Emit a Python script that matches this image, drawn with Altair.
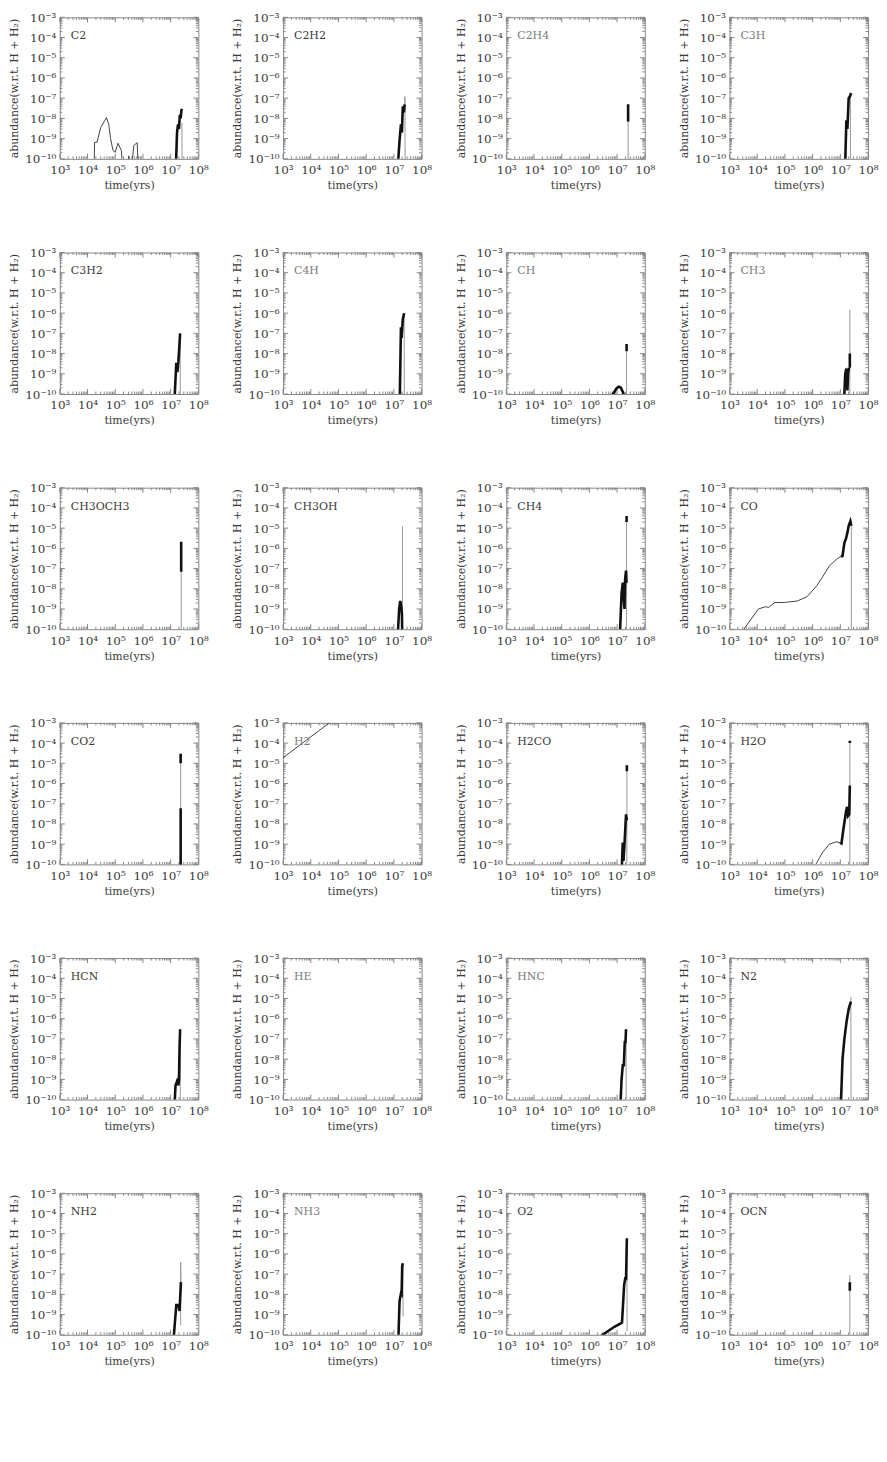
import altair as alt
import pandas as pd

FONT = "DejaVu Serif"
TEXT = "#3a3a3a"
TICK = "#888888"
W, H = 139, 142

SPECIES = ["C2", "C2H2", "C2H4", "C3H",
           "C3H2", "C4H", "CH", "CH3",
           "CH3OCH3", "CH3OH", "CH4", "CO",
           "CO2", "H2", "H2CO", "H2O",
           "HCN", "HE", "HNC", "N2",
           "NH2", "NH3", "O2", "OCN"]
LIGHT_LABELS = ["C2H4", "C3H", "C4H", "CH", "CH3", "H2", "HE", "HNC", "NH3"]

X_TICKS = [1e3, 1e4, 1e5, 1e6, 1e7, 1e8]
X_TICK_LABELS = ["10³", "10⁴", "10⁵", "10⁶", "10⁷", "10⁸"]
Y_TICKS = [1e-10, 1e-9, 1e-8, 1e-7, 1e-6, 1e-5, 1e-4, 1e-3]
Y_TICK_LABELS = ["10⁻¹⁰", "10⁻⁹", "10⁻⁸", "10⁻⁷", "10⁻⁶", "10⁻⁵", "10⁻⁴", "10⁻³"]
MINOR_MULT = [2, 3, 4, 5, 6, 7, 8, 9]

# ---- series (time in yrs, abundance) ----
C2_thin_t = [1.7e4, 1.8e4, 2.2e4, 3.0e4, 4.2e4, 4.8e4, 5.8e4, 6.8e4, 8.3e4, 1.0e5, 1.26e5, 1.66e5, 2.0e5, 2.9e5, 3.1e5, 3.5e5, 4.7e5, 6.2e5, 7.0e5]
C2_thin_a = [1e-11, 6.6e-10, 6.6e-10, 3.6e-9, 7.8e-9, 1.1e-8, 5.2e-9, 1e-9, 2.6e-10, 2.1e-10, 5.9e-10, 2.6e-10, 1e-11, 1e-11, 1.4e-10, 1e-11, 4.6e-10, 6.3e-10, 1e-11]
C2_thick_t = [1.5e7, 1.7e7, 1.85e7, 2.0e7, 2.15e7, 2.3e7, 2.45e7, 2.55e7]
C2_thick_a = [1e-11, 2e-9, 5e-9, 3e-9, 1.5e-8, 1e-8, 2.5e-8, 3e-8]
C2_drop_t = [2.55e7, 2.6e7]
C2_drop_a = [6e-9, 1e-11]

C2H2_thick_t = [1.3e7, 1.6e7, 1.8e7, 1.95e7, 2.1e7, 2.3e7, 2.45e7]
C2H2_thick_a = [1e-11, 8e-10, 5e-9, 2e-9, 4e-8, 2e-8, 5e-8]
C2H2_drop_t = [2.45e7, 2.5e7, 2.55e7]
C2H2_drop_a = [5e-8, 1.2e-7, 1e-11]

C2H4_drop_t = [2.5e7, 2.5e7]
C2H4_drop_a = [1e-11, 8e-9]
C2H4_thick_t = [2.5e7, 2.5e7]
C2H4_thick_a = [7e-9, 5e-8]

C3H_thick_t = [1.45e7, 1.65e7, 1.8e7, 2.0e7, 2.2e7, 2.45e7]
C3H_thick_a = [1e-11, 8e-9, 3e-9, 1e-7, 1.2e-7, 1.8e-7]
C3H_drop_t = [2.3e7, 2.35e7]
C3H_drop_a = [1.4e-7, 1e-11]

C3H2_thick_t = [1.3e7, 1.6e7, 1.75e7, 1.9e7, 2.05e7, 2.2e7]
C3H2_thick_a = [1e-11, 3.5e-9, 1.2e-9, 4e-9, 2e-8, 1e-7]
C3H2_drop_t = [2.2e7, 2.25e7]
C3H2_drop_a = [1e-7, 1e-11]

C4H_thick_t = [1.6e7, 1.8e7, 1.9e7, 2.1e7, 2.35e7]
C4H_thick_a = [1e-11, 2e-7, 6e-8, 5e-7, 1e-6]
C4H_drop_t = [2.35e7, 2.4e7]
C4H_drop_a = [1e-6, 1e-11]

CH_thick_t = [6.5e6, 8e6, 9.5e6, 1.15e7, 1.35e7, 1.6e7, 1.8e7]
CH_thick_a = [8e-11, 1.3e-10, 1.9e-10, 2.3e-10, 2.1e-10, 1.3e-10, 8e-11]
CH_drop_t = [2.2e7, 2.2e7]
CH_drop_a = [1e-11, 1.3e-8]
CH_top_t = [2.2e7, 2.2e7]
CH_top_a = [1.3e-8, 3e-8]

CH3_thick_t = [1.3e7, 1.5e7, 1.65e7, 1.8e7, 1.9e7, 2.05e7]
CH3_thick_a = [1e-11, 1e-9, 1.8e-9, 1.5e-10, 1e-9, 2e-9]
CH3_drop_t = [2.2e7, 2.2e7]
CH3_drop_a = [1e-11, 1.5e-6]
CH3_top_t = [2.2e7, 2.2e7]
CH3_top_a = [2e-9, 1e-8]

CH3OCH3_drop_t = [2.4e7, 2.4e7]
CH3OCH3_drop_a = [1e-11, 7e-8]
CH3OCH3_thick_t = [2.4e7, 2.4e7]
CH3OCH3_thick_a = [7e-8, 2.1e-6]

CH3OH_thick_t = [1.3e7, 1.55e7, 1.7e7, 1.85e7, 1.95e7, 2.05e7]
CH3OH_thick_a = [1e-11, 1e-9, 2.5e-9, 1.2e-9, 6e-10, 1e-11]
CH3OH_drop_t = [2.05e7, 2.05e7]
CH3OH_drop_a = [1e-11, 1.2e-5]

CH4_thick_t = [1.2e7, 1.45e7, 1.6e7, 1.75e7, 1.85e7, 1.95e7, 2.1e7, 2.2e7]
CH4_thick_a = [1e-11, 6e-9, 2e-8, 3e-9, 1e-9, 3e-8, 8e-8, 2e-8]
CH4_drop_t = [2.2e7, 2.2e7]
CH4_drop_a = [1e-11, 2e-5]
CH4_top_t = [2.2e7, 2.2e7]
CH4_top_a = [2e-5, 4e-5]

CO_thin_t = [2.5e3, 3.3e3, 1.1e4, 2.0e4, 2.6e4, 4.3e4, 9.5e4, 2.8e5, 6.2e5, 1.4e6, 2.3e6, 4e6, 8e6, 1.05e7]
CO_thin_a = [6e-11, 1e-10, 1e-9, 1.3e-9, 1.2e-9, 2.1e-9, 2.1e-9, 2.5e-9, 4e-9, 1.4e-8, 3.9e-8, 1.35e-7, 3.2e-7, 3.9e-7]
CO_thick_t = [1.05e7, 1.2e7, 1.4e7, 1.6e7, 1.8e7, 2.0e7, 2.3e7, 2.5e7]
CO_thick_a = [3.9e-7, 4.2e-7, 1.9e-6, 3e-6, 6e-6, 1.3e-5, 2.2e-5, 1.3e-5]
CO_drop_t = [2.5e7, 2.5e7]
CO_drop_a = [1.3e-5, 1e-11]

CO2_drop_t = [2.3e7, 2.3e7]
CO2_drop_a = [1e-11, 3e-5]
CO2_thick_t = [2.3e7, 2.3e7]
CO2_thick_a = [1e-11, 6e-8]
CO2_top_t = [2.3e7, 2.3e7]
CO2_top_a = [1e-5, 3e-5]

H2_thin_t = [1e3, 1e5]
H2_thin_a = [1.9e-5, 2.2e-3]

H2CO_thick_t = [1.4e7, 1.6e7, 1.7e7, 1.85e7, 2.1e7, 2.25e7]
H2CO_thick_a = [1e-11, 1.2e-9, 1.5e-10, 1e-9, 3e-8, 1.5e-8]
H2CO_drop_t = [2.25e7, 2.25e7]
H2CO_drop_a = [1e-11, 8e-6]
H2CO_top_t = [2.25e7, 2.25e7]
H2CO_top_a = [4e-6, 8e-6]

H2O_thin_t = [1.1e6, 1.3e6, 2.3e6, 4e6, 7e6, 9.8e6]
H2O_thin_a = [6e-11, 1e-10, 4e-10, 1e-9, 1.3e-9, 1.2e-9]
H2O_thick_t = [9.8e6, 1.1e7, 1.3e7, 1.6e7, 1.75e7, 1.9e7, 2.1e7, 2.2e7]
H2O_thick_a = [1.2e-9, 1.1e-9, 6e-9, 4e-8, 7e-8, 2.5e-8, 3e-8, 8e-7]
H2O_drop_t = [2.2e7, 2.2e7]
H2O_drop_a = [1e-11, 1.2e-4]
H2O_top_t = [2.2e7, 2.2e7]
H2O_top_a = [1e-4, 1.3e-4]

HCN_thick_t = [1.3e7, 1.5e7, 1.7e7, 1.9e7, 2.0e7, 2.1e7, 2.2e7]
HCN_thick_a = [1e-11, 5e-10, 8e-10, 5e-10, 1e-9, 4e-8, 3e-7]
HCN_drop_t = [2.2e7, 2.25e7]
HCN_drop_a = [3e-7, 1e-11]

HNC_thick_t = [1.25e7, 1.45e7, 1.6e7, 1.75e7, 1.9e7, 2.0e7, 2.1e7]
HNC_thick_a = [1e-11, 1e-9, 5e-9, 5e-9, 8e-8, 6e-8, 3e-7]
HNC_drop_t = [2.1e7, 2.15e7]
HNC_drop_a = [3e-7, 1e-11]

N2_thick_t = [1.0e7, 1.2e7, 1.4e7, 1.7e7, 2.0e7, 2.4e7]
N2_thick_a = [1e-11, 1e-8, 1e-7, 8e-7, 3e-6, 7e-6]
N2_drop_t = [2.4e7, 2.45e7]
N2_drop_a = [1.2e-5, 1e-11]

NH2_thick_t = [1.15e7, 1.6e7, 1.9e7, 2.1e7, 2.35e7]
NH2_thick_a = [1e-11, 3e-9, 3e-9, 1.5e-9, 4e-8]
NH2_drop_t = [2.35e7, 2.3e7, 2.3e7]
NH2_drop_a = [4e-8, 4e-7, 3e-10]

NH3_thick_t = [1.4e7, 1.6e7, 1.8e7, 1.9e7, 2.0e7, 2.1e7]
NH3_thick_a = [1e-11, 4.5e-9, 1.1e-8, 1e-8, 2.5e-7, 3.5e-7]
NH3_drop_t = [2.1e7, 2.15e7]
NH3_drop_a = [3.5e-7, 8e-10]

O2_thick_t = [2.5e6, 3e6, 8e6, 1.5e7, 1.8e7, 2.0e7, 2.1e7, 2.25e7]
O2_thick_a = [8e-11, 1e-10, 2.5e-10, 4e-10, 3e-8, 7e-8, 5e-8, 6e-6]
O2_drop_t = [2.25e7, 2.3e7]
O2_drop_a = [6e-6, 1.5e-10]

OCN_drop_t = [2.2e7, 2.2e7]
OCN_drop_a = [1e-11, 9e-8]
OCN_thick_t = [2.2e7, 2.2e7]
OCN_thick_a = [1.5e-8, 4e-8]

SEGMENTS = {
    "C2": [("thin", C2_thin_t, C2_thin_a), ("thick", C2_thick_t, C2_thick_a), ("drop", C2_drop_t, C2_drop_a)],
    "C2H2": [("thick", C2H2_thick_t, C2H2_thick_a), ("drop", C2H2_drop_t, C2H2_drop_a)],
    "C2H4": [("drop", C2H4_drop_t, C2H4_drop_a), ("thick", C2H4_thick_t, C2H4_thick_a)],
    "C3H": [("thick", C3H_thick_t, C3H_thick_a), ("drop", C3H_drop_t, C3H_drop_a)],
    "C3H2": [("thick", C3H2_thick_t, C3H2_thick_a), ("drop", C3H2_drop_t, C3H2_drop_a)],
    "C4H": [("thick", C4H_thick_t, C4H_thick_a), ("drop", C4H_drop_t, C4H_drop_a)],
    "CH": [("thick", CH_thick_t, CH_thick_a), ("drop", CH_drop_t, CH_drop_a), ("thick", CH_top_t, CH_top_a)],
    "CH3": [("thick", CH3_thick_t, CH3_thick_a), ("drop", CH3_drop_t, CH3_drop_a), ("thick", CH3_top_t, CH3_top_a)],
    "CH3OCH3": [("drop", CH3OCH3_drop_t, CH3OCH3_drop_a), ("thick", CH3OCH3_thick_t, CH3OCH3_thick_a)],
    "CH3OH": [("thick", CH3OH_thick_t, CH3OH_thick_a), ("drop", CH3OH_drop_t, CH3OH_drop_a)],
    "CH4": [("thick", CH4_thick_t, CH4_thick_a), ("drop", CH4_drop_t, CH4_drop_a), ("thick", CH4_top_t, CH4_top_a)],
    "CO": [("thin", CO_thin_t, CO_thin_a), ("thick", CO_thick_t, CO_thick_a), ("drop", CO_drop_t, CO_drop_a)],
    "CO2": [("drop", CO2_drop_t, CO2_drop_a), ("thick", CO2_thick_t, CO2_thick_a), ("thick", CO2_top_t, CO2_top_a)],
    "H2": [("thin", H2_thin_t, H2_thin_a)],
    "H2CO": [("thick", H2CO_thick_t, H2CO_thick_a), ("drop", H2CO_drop_t, H2CO_drop_a), ("thick", H2CO_top_t, H2CO_top_a)],
    "H2O": [("thin", H2O_thin_t, H2O_thin_a), ("thick", H2O_thick_t, H2O_thick_a), ("drop", H2O_drop_t, H2O_drop_a), ("thick", H2O_top_t, H2O_top_a)],
    "HCN": [("thick", HCN_thick_t, HCN_thick_a), ("drop", HCN_drop_t, HCN_drop_a)],
    "HE": [],
    "HNC": [("thick", HNC_thick_t, HNC_thick_a), ("drop", HNC_drop_t, HNC_drop_a)],
    "N2": [("thick", N2_thick_t, N2_thick_a), ("drop", N2_drop_t, N2_drop_a)],
    "NH2": [("thick", NH2_thick_t, NH2_thick_a), ("drop", NH2_drop_t, NH2_drop_a)],
    "NH3": [("thick", NH3_thick_t, NH3_thick_a), ("drop", NH3_drop_t, NH3_drop_a)],
    "O2": [("thick", O2_thick_t, O2_thick_a), ("drop", O2_drop_t, O2_drop_a)],
    "OCN": [("drop", OCN_drop_t, OCN_drop_a), ("thick", OCN_thick_t, OCN_thick_a)],
}

STYLES = {"thin": ("#444444", 1.0), "drop": ("#999999", 1.0), "thick": ("#111111", 2.6)}


def label_expr(vals, labels):
    expr = "'" + labels[-1] + "'"
    for v, l in reversed(list(zip(vals[:-1], labels[:-1]))):
        expr = "datum.value < " + repr(v * 1.5) + " ? '" + l + "' : " + expr
    return expr


X_EXPR = label_expr(X_TICKS, X_TICK_LABELS)
Y_EXPR = label_expr(Y_TICKS, Y_TICK_LABELS)
X_MINOR = [m * d for d in X_TICKS[:-1] for m in MINOR_MULT]
Y_MINOR = [m * d for d in Y_TICKS[:-1] for m in MINOR_MULT]

XS = alt.Scale(type="log", domain=[1e3, 1e8], nice=False)
YS = alt.Scale(type="log", domain=[1e-10, 1e-3], nice=False)

X_AXIS = alt.Axis(values=X_TICKS, labelExpr=X_EXPR, ticks=False, domain=False, grid=False,
                  title="time(yrs)", labelFont=FONT, labelFontSize=12, labelColor=TEXT,
                  titleFont=FONT, titleFontSize=11, titleColor=TEXT, titleFontWeight="normal",
                  labelPadding=6, titlePadding=4, labelFlush=False, labelOverlap=False)
Y_AXIS = alt.Axis(values=Y_TICKS, labelExpr=Y_EXPR, ticks=False, domain=False, grid=False,
                  title="abundance(w.r.t. H + H₂)", labelFont=FONT, labelFontSize=12,
                  labelColor=TEXT, titleFont=FONT, titleFontSize=11, titleColor=TEXT,
                  titleFontWeight="normal", labelPadding=4, titlePadding=5,
                  labelFlush=False, labelOverlap=False)

AXIS_DF = pd.DataFrame({"t": [1e3, 1e8], "a": [1e-10, 1e-3]})


def tick_layers():
    out = []
    for vals, L in ((X_TICKS, 5), (X_MINOR, 2.5)):
        df = pd.DataFrame({"v": vals})
        out.append(alt.Chart(df).mark_rule(color=TICK, strokeWidth=1).encode(
            x=alt.X("v:Q", scale=XS), y=alt.value(H), y2=alt.value(H - L)))
        out.append(alt.Chart(df).mark_rule(color=TICK, strokeWidth=1).encode(
            x=alt.X("v:Q", scale=XS), y=alt.value(0), y2=alt.value(L)))
    for vals, L in ((Y_TICKS, 5), (Y_MINOR, 2.5)):
        df = pd.DataFrame({"v": vals})
        out.append(alt.Chart(df).mark_rule(color=TICK, strokeWidth=1).encode(
            y=alt.Y("v:Q", scale=YS), x=alt.value(0), x2=alt.value(L)))
        out.append(alt.Chart(df).mark_rule(color=TICK, strokeWidth=1).encode(
            y=alt.Y("v:Q", scale=YS), x=alt.value(W), x2=alt.value(W - L)))
    return out


def panel(name):
    layers = [alt.Chart(AXIS_DF).mark_point(opacity=0, size=0).encode(
        x=alt.X("t:Q", scale=XS, axis=X_AXIS),
        y=alt.Y("a:Q", scale=YS, axis=Y_AXIS))]
    layers += tick_layers()
    rows = []
    for i, (style, ts, vs) in enumerate(SEGMENTS[name]):
        for k, (t, a) in enumerate(zip(ts, vs)):
            rows.append({"seg": i, "style": style, "t": t, "a": a, "k": k})
    if rows:
        df = pd.DataFrame(rows)
        for style in ("thin", "drop", "thick"):
            if not any(r["style"] == style for r in rows):
                continue
            color, width = STYLES[style]
            layers.append(alt.Chart(df).transform_filter(alt.datum.style == style).mark_line(
                clip=True, color=color, strokeWidth=width).encode(
                x=alt.X("t:Q", scale=XS),
                y=alt.Y("a:Q", scale=YS),
                detail="seg:N", order="k:Q"))
    label_color = "#7a7a7a" if name in LIGHT_LABELS else TEXT
    layers.append(alt.Chart(pd.DataFrame({"label": [name]})).mark_text(
        align="left", baseline="alphabetic", font=FONT, fontSize=11, color=label_color).encode(
        x=alt.value(11), y=alt.value(22), text="label:N"))
    return alt.layer(*layers).properties(width=W, height=H)


chart = alt.concat(*[panel(n) for n in SPECIES], columns=4,
                   spacing={"row": 94, "column": 85}, bounds="flush").properties(
    padding={"left": 0, "top": 0, "right": 0, "bottom": 5}
).configure_view(stroke="#888888", strokeWidth=1)

chart.save("out.html", embed_options={"renderer": "svg", "actions": False})
